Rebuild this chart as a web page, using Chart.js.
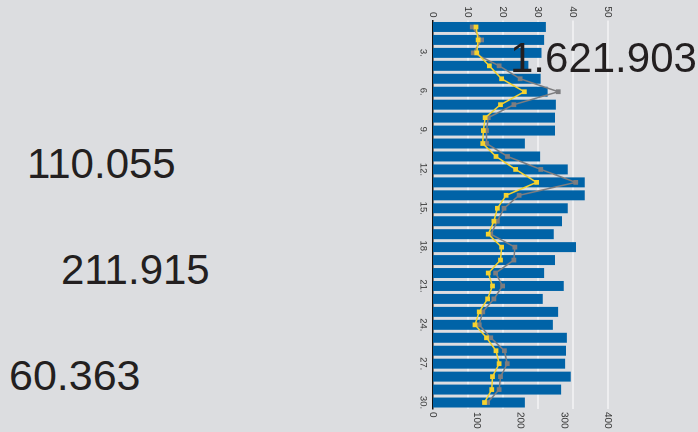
<!DOCTYPE html>
<html>
<head>
<meta charset="utf-8">
<script src="https://cdn.jsdelivr.net/npm/chart.js@4"></script>
<style>
  html, body { margin: 0; padding: 0; }
  body { width: 698px; height: 432px; overflow: hidden; background: #dcdde0; position: relative;
         font-family: "Liberation Sans", Arial, sans-serif; }
  .big { position: absolute; font-size: 42px; line-height: 40px; color: #231f20; white-space: nowrap; z-index: 2; }
  #wrap { position: absolute; left: 400px; top: 0; width: 250px; height: 432px; z-index: 1; }
  #chart { position: absolute; left: 0; top: 0; width: 432px; height: 250px;
           transform-origin: 0 0; transform: translate(250px, 0) rotate(90deg); }
</style>
</head>
<body>
<div class="big" style="left:27px;top:144px;">110.055</div>
<div class="big" style="left:61px;top:250px;">211.915</div>
<div class="big" style="left:9px;top:355px;font-size:43px;">60.363</div>
<div class="big" style="left:510px;top:38px;">1.621.903</div>
<div id="wrap"><canvas id="chart" width="432" height="250"></canvas></div>
<script>
// categories 1. .. 30.
const days = ["1.", "2.", "3.", "4.", "5.", "6.", "7.", "8.", "9.", "10.",
  "11.", "12.", "13.", "14.", "15.", "16.", "17.", "18.", "19.", "20.",
  "21.", "22.", "23.", "24.", "25.", "26.", "27.", "28.", "29.", "30."];

// bars (0-400 axis)
const barValues = [258, 254, 248, 218, 246, 262, 281, 279, 279, 210, 245, 308, 347, 347, 308,
  295, 276, 327, 279, 254, 299, 251, 286, 274, 306, 304, 302, 315, 293, 210];

// lines (0-50 axis)
const yellowValues = [12.3, 12.9, 12.5, 16.1, 19.6, 26.1, 19.3, 14.9, 14.4, 14.2, 18.0, 23.6, 29.6, 20.9, 18.4,
  17.4, 15.8, 19.6, 19.3, 15.8, 17.0, 15.6, 13.2, 12.0, 15.3, 18.0, 18.9, 17.0, 16.8, 14.7];
const grayValues = [11.2, 13.9, 11.5, 18.9, 24.9, 35.8, 23.1, 15.8, 15.3, 15.3, 21.3, 30.8, 40.8, 24.6, 20.3,
  18.4, 16.5, 23.4, 23.1, 17.9, 19.9, 17.4, 14.2, 13.2, 16.5, 20.4, 21.2, 19.3, 18.9, 15.6];

const tickFont = { family: "'Liberation Sans', Arial, sans-serif", size: 10 };

const ctx = document.getElementById("chart").getContext("2d");

new Chart(ctx, {
  type: "bar",
  data: {
    labels: days,
    datasets: [
      {
        type: "line",
        data: yellowValues,
        yAxisID: "y",
        borderColor: "#f6d22e",
        backgroundColor: "#f6d22e",
        borderWidth: 1.5,
        pointStyle: "rect",
        pointRadius: 2.3,
        tension: 0,
        order: 0
      },
      {
        type: "line",
        data: grayValues,
        yAxisID: "y",
        borderColor: "#7d7d7f",
        backgroundColor: "#7d7d7f",
        borderWidth: 1.5,
        pointStyle: "rect",
        pointRadius: 2.3,
        tension: 0,
        order: 1
      },
      {
        data: barValues,
        yAxisID: "y2",
        backgroundColor: "#0063a7",
        borderWidth: 0,
        barPercentage: 0.77,
        categoryPercentage: 1,
        order: 2
      }
    ]
  },
  options: {
    responsive: false,
    animation: false,
    devicePixelRatio: 2,
    layout: { padding: { top: 42, left: 0, right: 0, bottom: 0 } },
    plugins: {
      legend: { display: false },
      tooltip: { enabled: false }
    },
    scales: {
      x: {
        grid: { color: "rgba(0,0,0,0)", drawTicks: false },
        border: { display: true, color: "#111", width: 1.5 },
        ticks: {
          autoSkip: false,
          maxRotation: 0,
          padding: 4,
          color: "#333",
          font: { family: tickFont.family, size: 9.5 },
          callback: (v, i) => ((i + 1) % 3 === 0 ? days[i] : "")
        },
        afterFit: s => { s.height = 33; }
      },
      y: {
        position: "left",
        min: 0,
        max: 50,
        grid: { color: "#ffffff", lineWidth: 1, drawTicks: false },
        border: { display: false },
        ticks: { stepSize: 10, padding: 3, color: "#333", font: tickFont },
        afterFit: s => { s.width = 20.5; }
      },
      y2: {
        position: "right",
        min: 0,
        max: 400,
        grid: { display: false, drawTicks: false },
        border: { display: false },
        ticks: { stepSize: 100, padding: 3, color: "#333", font: tickFont },
        afterFit: s => { s.width = 23; }
      }
    }
  }
});
</script>
</body>
</html>
